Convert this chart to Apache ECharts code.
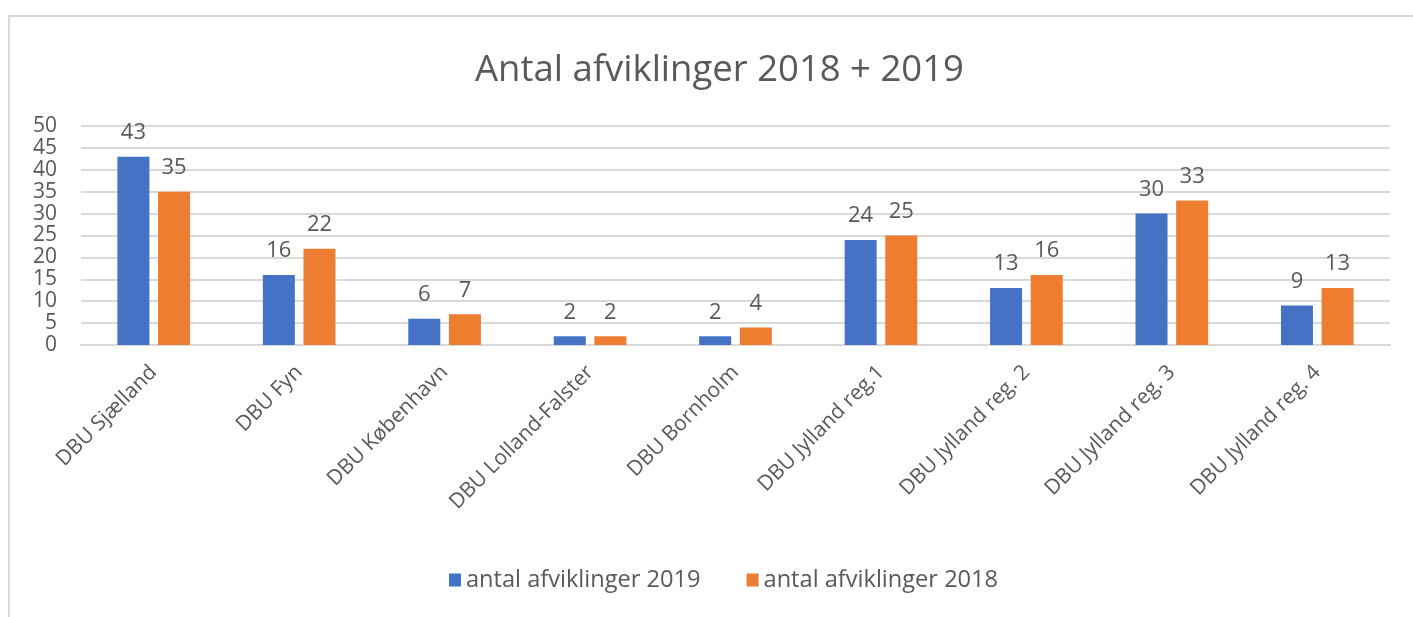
<!DOCTYPE html>
<html>
<head>
<meta charset="utf-8">
<title>Antal afviklinger 2018 + 2019</title>
<script src="https://cdn.jsdelivr.net/npm/echarts@6/dist/echarts.min.js"></script>
<style>
  html, body { margin: 0; padding: 0; background: #fff; }
  #main { width: 1413px; height: 617px; }
</style>
</head>
<body>
<div id="main"></div>
<script>
// data
var categories = ['DBU Sjælland', 'DBU Fyn', 'DBU København', 'DBU Lolland-Falster', 'DBU Bornholm',
                  'DBU Jylland reg.1', 'DBU Jylland reg. 2', 'DBU Jylland reg. 3', 'DBU Jylland reg. 4'];
var values2019 = [43, 16, 6, 2, 2, 24, 13, 30, 9];
var values2018 = [35, 22, 7, 2, 4, 25, 16, 33, 13];
var seriesNames = ['antal afviklinger 2019', 'antal afviklinger 2018'];

var textColor = '#595959';
var font = '"Open Sans", "Noto Sans", sans-serif';

var myChart = echarts.init(document.getElementById('main'));

var option = {
    backgroundColor: '#fff',
    textStyle: { fontFamily: font },
    // light frame, cut off at right and bottom like the original
    graphic: [
        {
            type: 'rect',
            silent: true,
            shape: { x: 9, y: 16, width: 1500, height: 700 },
            style: { fill: 'none', stroke: '#d9d9d9', lineWidth: 2 }
        }
    ],
    title: {
        text: 'Antal afviklinger 2018 + 2019',
        left: 470,
        top: 47,
        textStyle: { fontFamily: font, fontSize: 36.5, fontWeight: 'normal', color: textColor }
    },
    legend: {
        data: seriesNames,
        bottom: 20,
        left: 444,
        icon: 'rect',
        itemWidth: 12,
        itemHeight: 13,
        itemGap: 46,
        textStyle: { fontFamily: font, fontSize: 23.6, color: textColor }
    },
    grid: { left: 81, right: 23, top: 126, bottom: 272 },
    xAxis: {
        type: 'category',
        data: categories,
        axisTick: { show: false },
        axisLine: { lineStyle: { color: '#d9d9d9', width: 2 } },
        axisLabel: {
            rotate: 45,
            interval: 0,
            margin: 24,
            fontFamily: font,
            fontSize: 21,
            color: textColor
        }
    },
    yAxis: {
        type: 'value',
        min: 0,
        max: 50,
        interval: 5,
        axisLine: { show: false },
        axisTick: { show: false },
        splitLine: { lineStyle: { color: '#d9d9d9', width: 2 } },
        axisLabel: { margin: 24, fontFamily: font, fontSize: 21, color: textColor }
    },
    series: [
        {
            name: seriesNames[0],
            type: 'bar',
            data: values2019,
            barWidth: 32,
            barGap: '27%',
            itemStyle: { color: '#4472C4' },
            label: { show: true, position: 'top', distance: 13, fontFamily: font, fontSize: 22, color: textColor }
        },
        {
            name: seriesNames[1],
            type: 'bar',
            data: values2018,
            barWidth: 32,
            barGap: '27%',
            itemStyle: { color: '#ED7D31' },
            label: { show: true, position: 'top', distance: 13, fontFamily: font, fontSize: 22, color: textColor }
        }
    ]
};

myChart.setOption(option);
</script>
</body>
</html>
